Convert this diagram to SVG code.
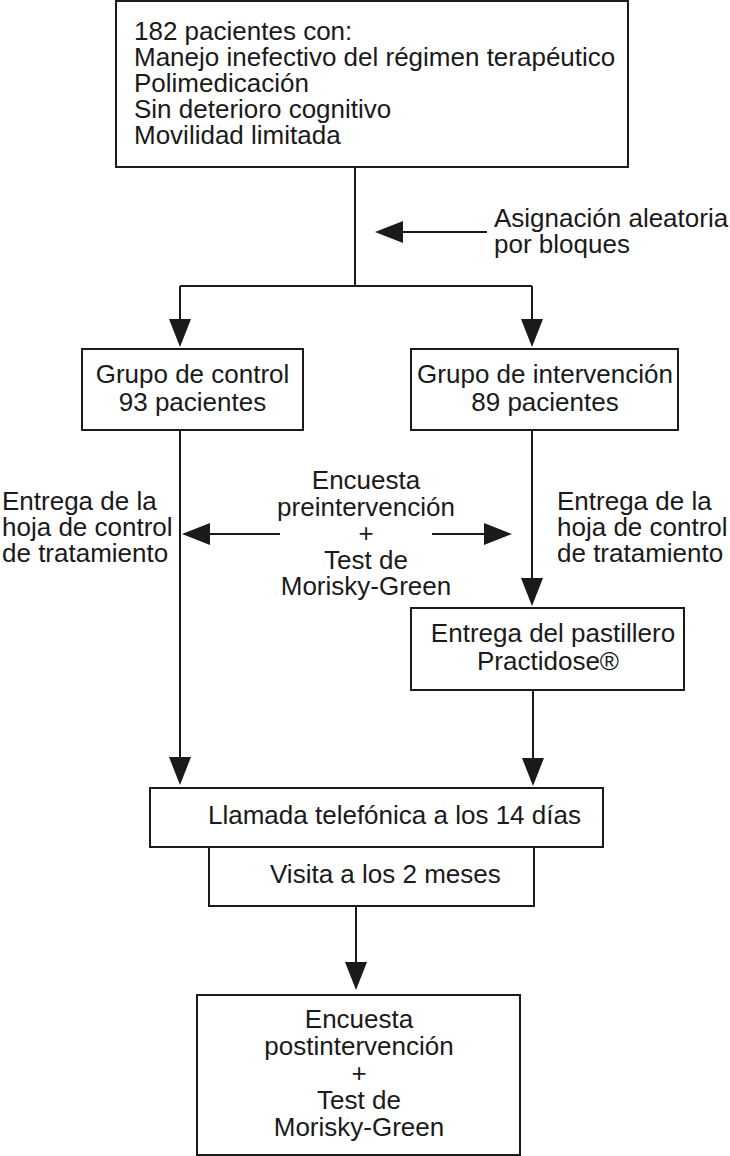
<svg xmlns="http://www.w3.org/2000/svg" width="730" height="1156" viewBox="0 0 730 1156">
<defs>
<marker id="ah" viewBox="0 0 28 22" refX="0" refY="11" markerWidth="28" markerHeight="22" markerUnits="userSpaceOnUse" orient="auto">
<path d="M0,0 L28,11 L0,22 z" fill="#1a1a1a"/>
</marker>
<style>
.box{fill:#fff;stroke:#1a1a1a;stroke-width:2}
.ln{fill:none;stroke:#1a1a1a;stroke-width:2}
.ar{fill:none;stroke:#1a1a1a;stroke-width:2;marker-end:url(#ah)}
text{font-family:"Liberation Sans",Arial,sans-serif;font-size:26px;fill:#1a1a1a}
.c{text-anchor:middle}
</style>
</defs>
<rect width="730" height="1156" fill="#fff"/>
<g id="connectors">
<line class="ln" x1="355" y1="167" x2="355" y2="286"/>
<line class="ln" x1="180" y1="286" x2="532" y2="286"/>
<line class="ar" x1="180" y1="286" x2="180" y2="319"/>
<line class="ar" x1="532" y1="286" x2="532" y2="319"/>
<line class="ar" x1="487" y1="232" x2="403" y2="232"/>
<line class="ar" x1="180" y1="430" x2="180" y2="757"/>
<line class="ar" x1="532" y1="430" x2="532" y2="578"/>
<line class="ar" x1="280" y1="534" x2="210" y2="534"/>
<line class="ar" x1="432" y1="534" x2="484" y2="534"/>
<line class="ar" x1="533" y1="690" x2="533" y2="758"/>
<line class="ar" x1="356" y1="906" x2="356" y2="962"/>
</g>
<g id="n-inicio">
<rect class="box" x="116" y="1" width="512" height="166"/>
<text x="134" y="40">182 pacientes con:</text>
<text x="134" y="66">Manejo inefectivo del régimen terapéutico</text>
<text x="134" y="92">Polimedicación</text>
<text x="134" y="118">Sin deterioro cognitivo</text>
<text x="134" y="144">Movilidad limitada</text>
</g>
<g id="l-asignacion">
<text x="494" y="227">Asignación aleatoria</text>
<text x="494" y="253">por bloques</text>
</g>
<g id="n-control">
<rect class="box" x="82" y="349" width="221" height="81"/>
<text class="c" x="192.5" y="383">Grupo de control</text>
<text class="c" x="192.5" y="411">93 pacientes</text>
</g>
<g id="n-intervencion">
<rect class="box" x="411" y="349" width="267" height="81"/>
<text class="c" x="545" y="383">Grupo de intervención</text>
<text class="c" x="545" y="411">89 pacientes</text>
</g>
<g id="l-hoja-izq">
<text x="2" y="510">Entrega de la</text>
<text x="2" y="536">hoja de control</text>
<text x="2" y="562">de tratamiento</text>
</g>
<g id="l-encuesta-pre">
<text class="c" x="366" y="489">Encuesta</text>
<text class="c" x="366" y="515.5">preintervención</text>
<text class="c" x="366" y="542">+</text>
<text class="c" x="366" y="568.5">Test de</text>
<text class="c" x="366" y="595">Morisky-Green</text>
</g>
<g id="l-hoja-der">
<text x="557" y="510">Entrega de la</text>
<text x="557" y="536">hoja de control</text>
<text x="557" y="562">de tratamiento</text>
</g>
<g id="n-pastillero">
<rect class="box" x="411" y="608" width="273" height="82"/>
<text class="c" x="553" y="642">Entrega del pastillero</text>
<text class="c" x="548" y="670">Practidose®</text>
</g>
<g id="n-llamada">
<rect class="box" x="150" y="788" width="453" height="59"/>
<text x="208" y="824">Llamada telefónica a los 14 días</text>
</g>
<g id="n-visita">
<rect class="box" x="209" y="847" width="325" height="59"/>
<text x="270" y="883">Visita a los 2 meses</text>
</g>
<g id="n-encuesta-post">
<rect class="box" x="197" y="995" width="323" height="160"/>
<text class="c" x="359" y="1028">Encuesta</text>
<text class="c" x="359" y="1055">postintervención</text>
<text class="c" x="359" y="1082">+</text>
<text class="c" x="359" y="1109">Test de</text>
<text class="c" x="359" y="1136">Morisky-Green</text>
</g>
</svg>
